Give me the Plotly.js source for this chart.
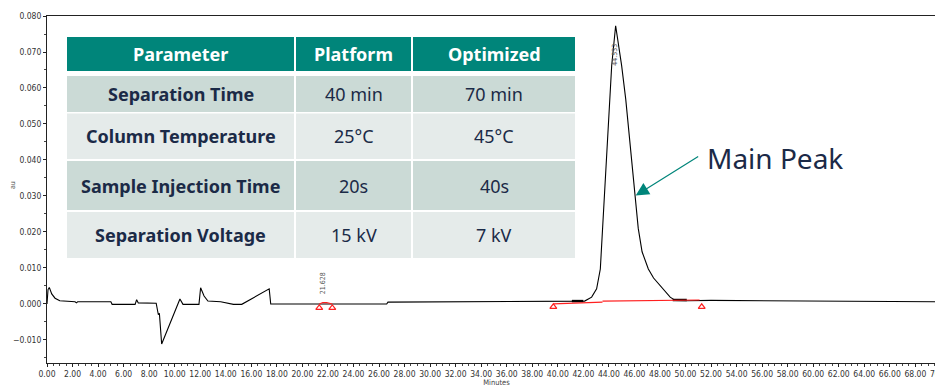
<!DOCTYPE html>
<html>
<head>
<meta charset="utf-8">
<script src="https://cdn.plot.ly/plotly-3.0.1.min.js"></script>
<style>
html,body{margin:0;padding:0;overflow:hidden;background:#fff;}
#chart{width:960px;height:387px;}
</style>
</head>
<body>
<div id="chart"></div>
<script>
// ---- chromatogram data (minutes, au) ----
const timeMin = [0.0, 0.08, 0.18, 0.37, 0.63, 1.0, 2.2, 2.3, 2.4, 5.0, 5.1, 6.9, 7.02, 7.15, 8.55, 8.72, 8.8, 8.98, 10.41, 10.65, 11.9, 12.03, 12.3, 12.6, 13.6, 14.6, 15.25, 17.2, 17.4, 17.52, 21.5, 26.6, 26.7, 41.0, 42.1, 42.65, 43.04, 43.33, 43.64, 43.83, 44.03, 44.22, 44.53, 45.0, 45.32, 45.71, 46.07, 46.3, 46.6, 47.09, 47.5, 48.0, 48.8, 49.2, 50.1, 52.0, 60.0, 70.4];
const signalAu = [0.0, 0.0040, 0.0046, 0.0028, 0.0016, 0.0009, 0.0006, 0.0003, 0.0006, 0.0006, -0.0001, -0.0001, 0.0012, 0.0003, 0.0002, -0.0030, -0.0026, -0.0111, 0.0014, -0.0001, -0.0001, 0.0045, 0.0022, 0.0008, 0.0006, -0.0001, -0.0001, 0.0037, 0.0042, 0.0, 0.0, 0.0, 0.0005, 0.0008, 0.0008, 0.0019, 0.0042, 0.0097, 0.0292, 0.0431, 0.0569, 0.0662, 0.0773, 0.0662, 0.0569, 0.0431, 0.0292, 0.0210, 0.0145, 0.0097, 0.0072, 0.0051, 0.0019, 0.0010, 0.0009, 0.0010, 0.0008, 0.0006];

// integration baselines (red) and markers
const baseTime = [21.32, 21.6, 21.9, 22.34, null, 39.65, 43.5, null, 43.5, 51.1];
const baseAu   = [0.0, 0.0004, 0.0004, 0.0, null, 0.0, 0.0005, null, 0.0008, 0.0011];
const markTime = [21.32, 22.34, 39.65, 51.27];
const markAu   = [-0.0011, -0.0011, -0.0008, -0.0008];
const thickTime = [41.1, 42.0, null, 49.0, 50.1];
const thickAu   = [0.0008, 0.0008, null, 0.0011, 0.0011];

// peak labels
const peakTimes  = [21.628, 44.533];
const peakLabels = ["21.628", "44.533"];
const peakLabelAu = [0.0022, 0.0655];

// annotation
const calloutText = "Main Peak";
const calloutTime = 46.1;
const calloutAu = 0.0301;

// table
const tableHeader = ["Parameter", "Platform", "Optimized"];
const tableParams = ["Separation Time", "Column Temperature", "Sample Injection Time", "Separation Voltage"];
const tablePlatform = ["40 min", "25°C", "20s", "15 kV"];
const tableOptimized = ["70 min", "45°C", "40s", "7 kV"];

// ---- layout geometry (pixels) ----
const L = 47, T = 16, W = 960, H = 387, B = 24, R = 14;
const plotW = W - L - R, plotH = H - T - B;
const px2x = p => (p - L) / plotW;
const py2y = p => (H - B - p) / plotH;

const colEdges = [[67, 294], [296, 411], [413, 575]];
const rowEdges = [[37, 71], [76, 112], [113.5, 159], [161, 210], [212, 258]];
const headFill = "#00857A";
const rowFills = ["#CBDAD6", "#E5EBEA", "#CBDAD6", "#E5EBEA"];
const navy = "#1B2A47";

const shapes = [];
const annotations = [];
const tableFont = "Noto Sans, Open Sans, sans-serif";

rowEdges.forEach((r, ri) => {
  colEdges.forEach((c, ci) => {
    shapes.push({type: "rect", xref: "paper", yref: "paper", layer: "above",
      x0: px2x(c[0]), x1: px2x(c[1]), y0: py2y(r[1]), y1: py2y(r[0]),
      fillcolor: ri === 0 ? headFill : rowFills[ri - 1], line: {width: 0}});
    let txt, bold, color;
    if (ri === 0) { txt = tableHeader[ci]; bold = true; color = "#ffffff"; }
    else {
      txt = [tableParams, tablePlatform, tableOptimized][ci][ri - 1];
      bold = ci === 0; color = navy;
    }
    annotations.push({xref: "paper", yref: "paper", showarrow: false,
      x: px2x((c[0] + c[1]) / 2), y: py2y((r[0] + r[1]) / 2),
      xanchor: "center", yanchor: "middle",
      text: bold ? "<b>" + txt + "</b>" : txt,
      font: {family: tableFont, size: 18, color: color}});
  });
});

// peak labels
peakTimes.forEach((t, i) => {
  annotations.push({x: t, y: peakLabelAu[i], xref: "x", yref: "y", showarrow: false,
    text: peakLabels[i], textangle: -90, xanchor: "center", yanchor: "bottom",
    font: {family: "DejaVu Sans Condensed, sans-serif", size: 7, color: "#555"}});
});

// callout arrow + text
annotations.push({x: calloutTime, y: calloutAu, xref: "x", yref: "y",
  showarrow: true, text: "", ax: 64, ay: -40, arrowcolor: "#00857A",
  arrowhead: 2, arrowsize: 2.2, arrowwidth: 1.2});
annotations.push({xref: "paper", yref: "paper", x: px2x(705), y: py2y(158),
  xanchor: "left", yanchor: "middle", showarrow: false, text: calloutText,
  font: {family: "Noto Sans, Open Sans, sans-serif", size: 28, color: navy}});

// y-axis unit label
annotations.push({xref: "paper", yref: "paper", x: px2x(13), y: py2y(185),
  xanchor: "center", yanchor: "middle", showarrow: false, text: "au", textangle: -90,
  font: {family: "DejaVu Sans Condensed, sans-serif", size: 7, color: "#555"}});

const tickFont = {family: "DejaVu Sans Condensed, Liberation Sans Narrow, sans-serif", size: 8.5, color: "#333"};

const traces = [
  {x: timeMin, y: signalAu, type: "scatter", mode: "lines",
   line: {color: "#000", width: 1.1}, hoverinfo: "skip"},
  {x: thickTime, y: thickAu, type: "scatter", mode: "lines",
   line: {color: "#000", width: 2.5}, hoverinfo: "skip"},
  {x: baseTime, y: baseAu, type: "scatter", mode: "lines",
   line: {color: "#ff2020", width: 1.2}, hoverinfo: "skip"},
  {x: markTime, y: markAu, type: "scatter", mode: "markers",
   marker: {symbol: "triangle-up-open", size: 6, color: "#ff2020", line: {width: 1.2}}, hoverinfo: "skip"}
];

const layout = {
  width: W, height: H,
  margin: {l: L, r: R, t: T, b: B, pad: 0},
  paper_bgcolor: "#fff", plot_bgcolor: "#fff",
  showlegend: false,
  xaxis: {range: [0, 70.4], tick0: 0, dtick: 2, tickformat: ".2f", tickangle: 0,
    showgrid: false, zeroline: false, showline: true, linecolor: "#222", linewidth: 1,
    mirror: true, ticks: "outside", ticklen: 3, tickcolor: "#222",
    minor: {dtick: 0.5, ticks: "outside", ticklen: 2, tickcolor: "#444"},
    tickfont: tickFont,
    title: {text: "Minutes", standoff: 0, font: {family: tickFont.family, size: 7.5, color: "#444"}}},
  yaxis: {range: [-0.0164, 0.080], tick0: 0, dtick: 0.01, tickformat: ".3f",
    showgrid: false, zeroline: false, showline: true, linecolor: "#222", linewidth: 1,
    ticks: "outside", ticklen: 3, tickcolor: "#222",
    minor: {dtick: 0.005, ticks: "outside", ticklen: 2, tickcolor: "#444"},
    tickfont: tickFont},
  shapes: shapes,
  annotations: annotations
};

Plotly.newPlot("chart", traces, layout, {displayModeBar: false, staticPlot: true});
</script>
</body>
</html>
